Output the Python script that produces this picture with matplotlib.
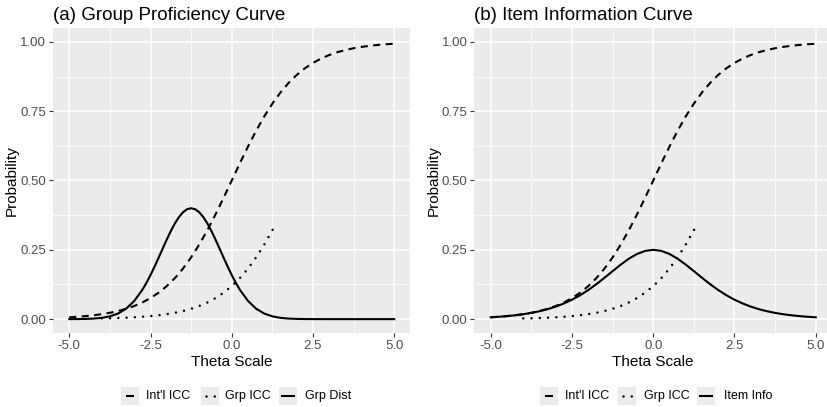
import matplotlib
matplotlib.use("Agg")
import matplotlib.pyplot as plt
from matplotlib.patches import Rectangle
from matplotlib.lines import Line2D

plt.rcParams['font.family'] = ['Liberation Sans', 'DejaVu Sans']
plt.rcParams['axes.unicode_minus'] = False

# ---------------- data ----------------
theta = [-5.0, -4.75, -4.5, -4.25, -4.0, -3.75, -3.5, -3.25, -3.0, -2.75, -2.5,
         -2.25, -2.0, -1.75, -1.5, -1.25, -1.0, -0.75, -0.5, -0.25, 0.0,
         0.25, 0.5, 0.75, 1.0, 1.25, 1.5, 1.75, 2.0, 2.25, 2.5,
         2.75, 3.0, 3.25, 3.5, 3.75, 4.0, 4.25, 4.5, 4.75, 5.0]

intl_icc = [0.0067, 0.0086, 0.0110, 0.0141, 0.0180, 0.0230, 0.0293, 0.0373, 0.0474, 0.0601, 0.0759,
            0.0953, 0.1192, 0.1480, 0.1824, 0.2227, 0.2689, 0.3208, 0.3775, 0.4378, 0.5000,
            0.5622, 0.6225, 0.6792, 0.7311, 0.7773, 0.8176, 0.8520, 0.8808, 0.9047, 0.9241,
            0.9399, 0.9526, 0.9627, 0.9707, 0.9770, 0.9820, 0.9859, 0.9890, 0.9914, 0.9933]

grp_theta = [-4.0, -3.75, -3.5, -3.25, -3.0, -2.75, -2.5, -2.25, -2.0, -1.75, -1.5,
             -1.25, -1.0, -0.75, -0.5, -0.25, 0.0, 0.25, 0.5, 0.75, 1.0, 1.25, 1.3]
grp_icc = [0.0025, 0.0032, 0.0041, 0.0052, 0.0067, 0.0086, 0.0110, 0.0141, 0.0180, 0.0230, 0.0293,
           0.0373, 0.0474, 0.0601, 0.0759, 0.0953, 0.1192, 0.1480, 0.1824, 0.2227, 0.2689, 0.3208, 0.3318]

dist_theta = [-5.0, -4.75, -4.5, -4.25, -4.0, -3.75, -3.5, -3.25, -3.0, -2.75,
              -2.625, -2.5, -2.375, -2.25, -2.125, -2.0, -1.875, -1.75, -1.625, -1.5,
              -1.375, -1.25, -1.125, -1.0, -0.875, -0.75, -0.625, -0.5, -0.375, -0.25,
              -0.125, 0.0, 0.125, 0.25, 0.5, 0.75, 1.0, 1.25, 1.5, 1.75,
              2.0, 2.25, 2.5, 3.0, 3.5, 4.0, 4.5, 5.0]
grp_dist = [0.0001, 0.0003, 0.0008, 0.0020, 0.0046, 0.0100, 0.0201, 0.0377, 0.0656, 0.1059,
            0.1309, 0.1589, 0.1894, 0.2216, 0.2544, 0.2870, 0.3177, 0.3451, 0.3681, 0.3855,
            0.3963, 0.4000, 0.3963, 0.3855, 0.3681, 0.3451, 0.3177, 0.2870, 0.2544, 0.2216,
            0.1894, 0.1589, 0.1309, 0.1059, 0.0656, 0.0377, 0.0201, 0.0100, 0.0046, 0.0020,
            0.0008, 0.0003, 0.0001, 0.0, 0.0, 0.0, 0.0, 0.0]

item_info = [0.0066, 0.0085, 0.0109, 0.0139, 0.0177, 0.0225, 0.0285, 0.0359, 0.0452, 0.0565, 0.0701,
             0.0862, 0.1050, 0.1261, 0.1491, 0.1731, 0.1966, 0.2179, 0.2350, 0.2461, 0.2500,
             0.2461, 0.2350, 0.2179, 0.1966, 0.1731, 0.1491, 0.1261, 0.1050, 0.0862, 0.0701,
             0.0565, 0.0452, 0.0359, 0.0285, 0.0225, 0.0177, 0.0139, 0.0109, 0.0085, 0.0066]

x_ticks = [-5.0, -2.5, 0.0, 2.5, 5.0]
x_labels = ["-5.0", "-2.5", "0.0", "2.5", "5.0"]
y_ticks = [0.0, 0.25, 0.5, 0.75, 1.0]
y_labels = ["0.00", "0.25", "0.50", "0.75", "1.00"]
titles = ["(a) Group Proficiency Curve", "(b) Item Information Curve"]
legend_a = ["Int'l ICC", "Grp ICC", "Grp Dist"]
legend_b = ["Int'l ICC", "Grp ICC", "Item Info"]

# ---------------- figure ----------------
W, H = 828, 407
fig = plt.figure(figsize=(W / 100, H / 100), dpi=100)
fig.patch.set_facecolor('white')

def px_axes(x0, y_top, w, h):
    return fig.add_axes([x0 / W, (H - y_top - h) / H, w / W, h / H])

BG = '#EBEBEB'
LW = 1.5
LWD = 1.8
DASH = (3.4, 2.6)
DOT = (0.01, 3.3)

def style_axes(ax, title):
    ax.set_facecolor(BG)
    for s in ax.spines.values():
        s.set_visible(False)
    ax.set_xlim(-5.5, 5.5)
    ax.set_ylim(-0.05, 1.05)
    ax.set_xticks(x_ticks)
    ax.set_xticklabels(x_labels)
    ax.set_yticks(y_ticks)
    ax.set_yticklabels(y_labels)
    ax.set_xticks([-3.75, -1.25, 1.25, 3.75], minor=True)
    ax.set_yticks([0.125, 0.375, 0.625, 0.875], minor=True)
    ax.grid(which='major', color='white', linewidth=1.1)
    ax.grid(which='minor', color='white', linewidth=0.55)
    ax.set_axisbelow(True)
    ax.tick_params(which='major', length=3, width=0.8, color='#333333',
                   labelcolor='#4D4D4D', labelsize=9.5, pad=2)
    ax.tick_params(which='minor', length=0)
    ax.set_xlabel("Theta Scale", fontsize=11, color='black', labelpad=2)
    ax.set_ylabel("Probability", fontsize=11, color='black', labelpad=1)
    ax.set_title(title, loc='left', fontsize=13.5, color='black', pad=6)

def draw_legend(labels, box_x, text_x):
    yc = 396
    bs = 18
    for i, lab in enumerate(labels):
        bx = box_x[i]
        fig.patches.append(Rectangle((bx / W, (H - yc - bs / 2) / H), bs / W, bs / H,
                                     transform=fig.transFigure, facecolor='#EBEBEB',
                                     edgecolor='none', zorder=1))
        cx = bx + bs / 2
        yy = [(H - yc) / H] * 2
        if i == 0:
            l = Line2D([(cx - 4) / W, (cx + 4) / W], yy, color='black',
                       lw=LW, transform=fig.transFigure, solid_capstyle='butt')
        elif i == 1:
            l = Line2D([(cx - 4.2) / W, (cx + 4.6) / W], yy, color='black',
                       lw=LWD, transform=fig.transFigure, linestyle=(0, DOT),
                       dash_capstyle='round')
        else:
            l = Line2D([(cx - 7) / W, (cx + 7) / W], yy, color='black',
                       lw=LW, transform=fig.transFigure, solid_capstyle='butt')
        fig.lines.append(l)
        fig.text(text_x[i] / W, (H - yc) / H, lab, fontsize=9, va='center', ha='left',
                 color='black')

def draw_curves(ax, third_x, third_y):
    ax.plot(theta, intl_icc, color='black', lw=LW, linestyle=(0, DASH))
    ax.plot(grp_theta, grp_icc, color='black', lw=LWD, linestyle=(0, DOT),
            dash_capstyle='round')
    ax.plot(third_x, third_y, color='black', lw=LW)

# panel a
ax1 = px_axes(53, 28, 357.5, 305)
style_axes(ax1, titles[0])
draw_curves(ax1, dist_theta, grp_dist)
draw_legend(legend_a, [121, 201, 279], [146, 225, 305])

# panel b
ax2 = px_axes(474.5, 28, 357.5, 305)
style_axes(ax2, titles[1])
draw_curves(ax2, theta, item_info)
draw_legend(legend_b, [540, 618, 697], [565, 644, 724])

fig.savefig("out.png", dpi=100, facecolor='white')
